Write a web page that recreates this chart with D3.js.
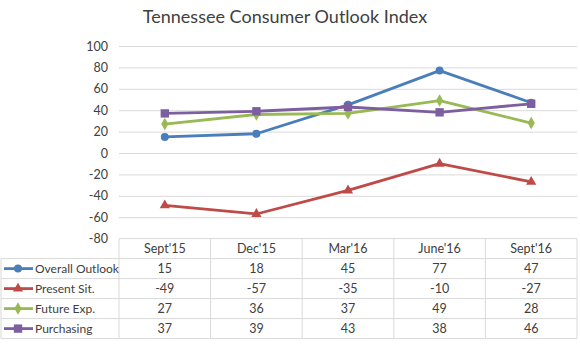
<!DOCTYPE html>
<html>
<head>
<meta charset="utf-8">
<script src="https://cdn.jsdelivr.net/npm/d3@7"></script>
<style>
  body { margin: 0; background: #fff; }
  text { font-family: Lato, "Open Sans", sans-serif; fill: #404040; }
</style>
</head>
<body>
<div id="main"></div>
<script>
const categories = ["Sept'15", "Dec'15", "Mar'16", "June'16", "Sept'16"];
const seriesNames = ["Overall Outlook", "Present Sit.", "Future Exp.", "Purchasing"];
const overallOutlook = [15, 18, 45, 77, 47];
const presentSit = [-49, -57, -35, -10, -27];
const futureExp = [27, 36, 37, 49, 28];
const purchasing = [37, 39, 43, 38, 46];
const yTicks = [-80, -60, -40, -20, 0, 20, 40, 60, 80, 100];

class Chart {
  constructor(config) {
    this.config = config;
    this.svg = null;
    this.xScale = null;
    this.yScale = null;
    this.series = [
      { name: seriesNames[0], values: overallOutlook, color: '#4a7ebb', marker: d3.symbolCircle, size: 50 },
      { name: seriesNames[1], values: presentSit, color: '#be4b48', marker: d3.symbolTriangle, size: 45 },
      { name: seriesNames[2], values: futureExp, color: '#98b954', marker: d3.symbolDiamond, size: 45 },
      { name: seriesNames[3], values: purchasing, color: '#7d5fa0', marker: d3.symbolSquare, size: 70 }
    ];
    this.createSvg();
  }

  createSvg() {
    this.svg = d3.select(this.config.div)
      .append('svg')
      .attr('width', this.config.width)
      .attr('height', this.config.height);
  }

  createScales() {
    const c = this.config;
    this.xScale = d3.scaleBand().domain(categories).range([c.left, c.right]);
    this.yScale = d3.scaleLinear().domain([-80, 100]).range([c.bottom, c.top]);
  }

  createTitle() {
    this.svg.append('text')
      .attr('x', 285)
      .attr('y', 23)
      .attr('text-anchor', 'middle')
      .style('font-size', '18px')
      .text('Tennessee Consumer Outlook Index');
  }

  createAxis() {
    const c = this.config;
    const yAxis = d3.axisLeft(this.yScale)
      .tickValues(yTicks)
      .tickFormat(d => String(d))
      .tickSize(-(c.right - c.left))
      .tickPadding(11);

    const g = this.svg.append('g')
      .attr('transform', `translate(${c.left},0)`)
      .call(yAxis);
    g.select('.domain').remove();
    g.selectAll('.tick line').attr('stroke', '#d9d9d9').attr('stroke-width', 1)
      .filter(d => d === -80).remove();
    g.selectAll('.tick text')
      .style('font-size', '12.5px')
      .style('font-family', 'Lato, sans-serif')
      .attr('fill', '#404040');
  }

  createLines() {
    const line = d3.line()
      .x((d, i) => this.xScale(categories[i]) + this.xScale.bandwidth() / 2)
      .y(d => this.yScale(d));

    const groups = this.svg.selectAll('g.series')
      .data(this.series)
      .join('g')
      .attr('class', 'series');

    groups.append('path')
      .attr('d', d => line(d.values))
      .attr('fill', 'none')
      .attr('stroke', d => d.color)
      .attr('stroke-width', 2.8)
      .attr('stroke-linejoin', 'round');

    groups.each((s, i, nodes) => {
      d3.select(nodes[i]).selectAll('path.marker')
        .data(s.values)
        .join('path')
        .attr('class', 'marker')
        .attr('d', d3.symbol().type(s.marker).size(s.size))
        .attr('fill', s.color)
        .attr('transform', (d, j) =>
          `translate(${this.xScale(categories[j]) + this.xScale.bandwidth() / 2},${this.yScale(d)})`);
    });
  }

  createTable() {
    const c = this.config;
    const rowH = c.rowH;
    const top = this.yScale(-80);
    const t = this.svg.append('g');
    const grid = '#d9d9d9';

    // horizontal lines
    t.append('line').attr('x1', c.left).attr('x2', c.right)
      .attr('y1', top).attr('y2', top).attr('stroke', grid);
    for (let r = 1; r <= seriesNames.length + 1; r++) {
      t.append('line').attr('x1', 1).attr('x2', c.right)
        .attr('y1', top + r * rowH).attr('y2', top + r * rowH).attr('stroke', grid);
    }
    // vertical lines
    t.append('line').attr('x1', 1).attr('x2', 1)
      .attr('y1', top + rowH).attr('y2', top + (seriesNames.length + 1) * rowH).attr('stroke', grid);
    const xs = categories.map(d => this.xScale(d)).concat([c.right]);
    xs.forEach(x => {
      t.append('line').attr('x1', x).attr('x2', x)
        .attr('y1', top).attr('y2', top + (seriesNames.length + 1) * rowH).attr('stroke', grid);
    });

    // header
    t.selectAll('text.head')
      .data(categories)
      .join('text')
      .attr('class', 'head')
      .attr('x', d => this.xScale(d) + this.xScale.bandwidth() / 2)
      .attr('y', top + rowH / 2 + 4.5)
      .attr('text-anchor', 'middle')
      .style('font-size', '12.5px')
      .text(d => d);

    // rows
    this.series.forEach((s, i) => {
      const cy = top + (i + 1) * rowH + rowH / 2;
      t.append('line').attr('x1', 4).attr('x2', 33)
        .attr('y1', cy).attr('y2', cy)
        .attr('stroke', s.color).attr('stroke-width', 2.8);
      t.append('path')
        .attr('d', d3.symbol().type(s.marker).size(s.size))
        .attr('fill', s.color)
        .attr('transform', `translate(18,${cy})`);
      t.append('text')
        .attr('x', 35)
        .attr('y', cy + 4.5)
        .style('font-size', '12px')
        .text(s.name);
      t.selectAll(null)
        .data(s.values)
        .join('text')
        .attr('x', (d, j) => this.xScale(categories[j]) + this.xScale.bandwidth() / 2)
        .attr('y', cy + 4.5)
        .attr('text-anchor', 'middle')
        .style('font-size', '12.5px')
        .text(d => d);
    });
  }
}

function main() {
  let c = { div: '#main', width: 580, height: 354, left: 119, right: 577, top: 46, bottom: 238.6, rowH: 20 };
  let chart = new Chart(c);
  chart.createScales();
  chart.createTitle();
  chart.createAxis();
  chart.createTable();
  chart.createLines();
}

main();
</script>
</body>
</html>
